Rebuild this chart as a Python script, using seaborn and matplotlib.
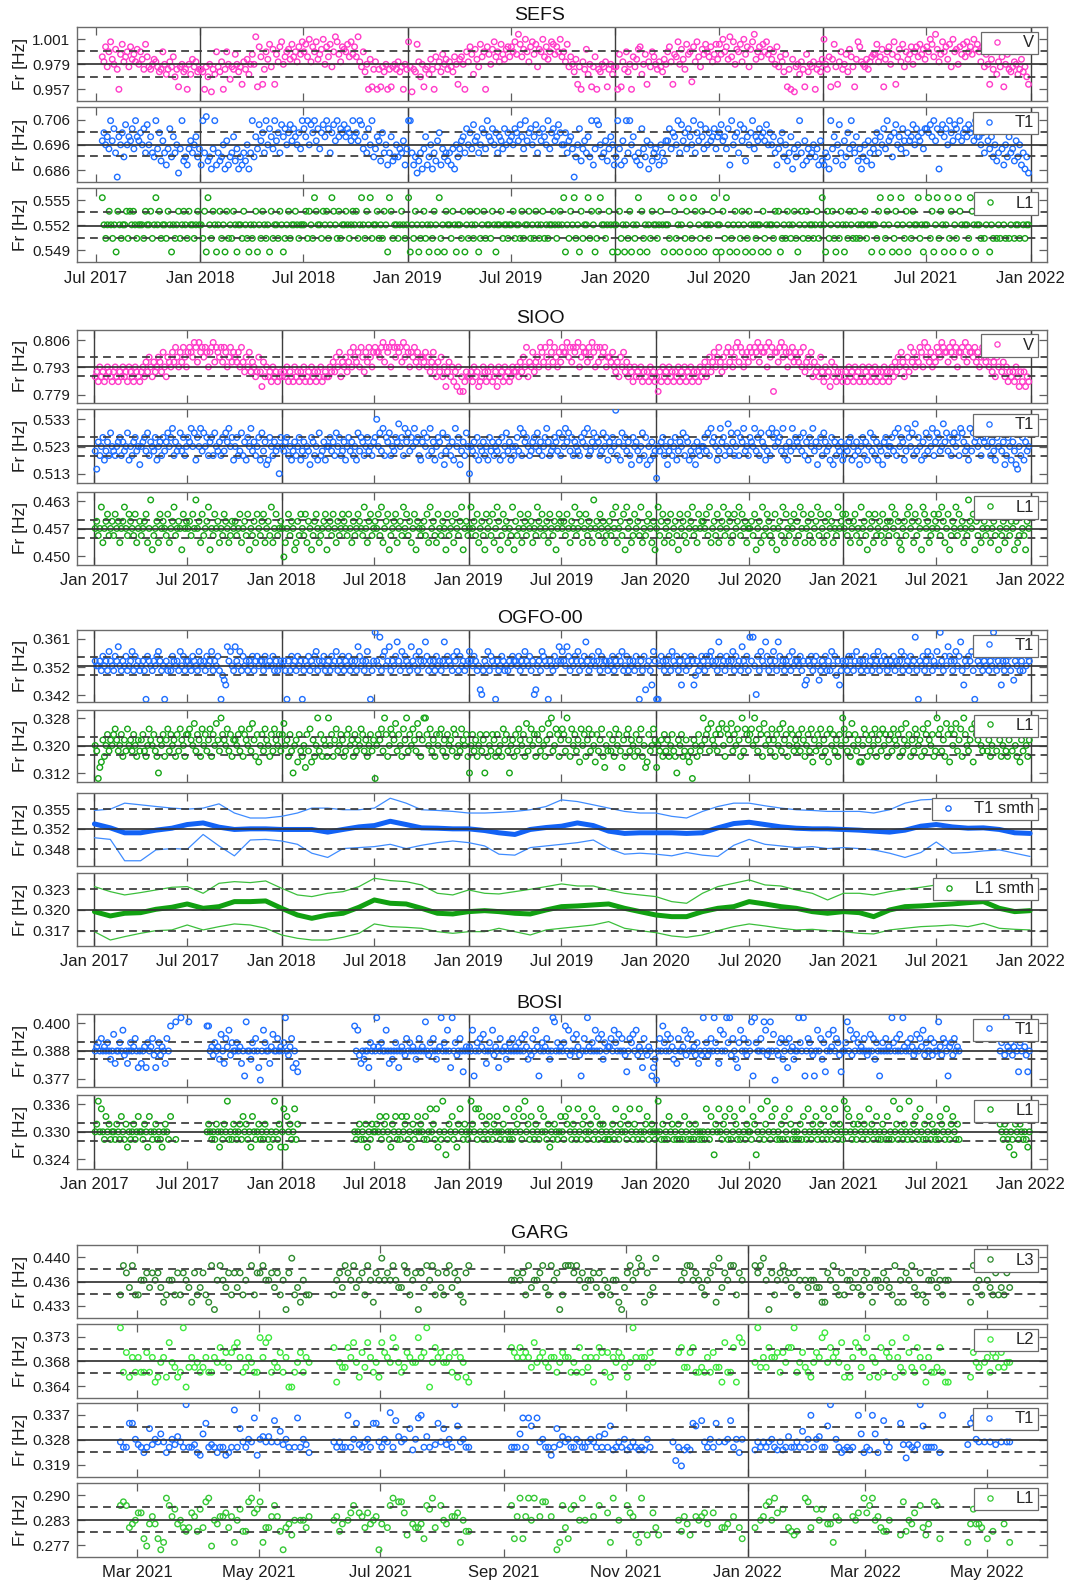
import numpy as np
import pandas as pd
import matplotlib
matplotlib.use("Agg")
import matplotlib.pyplot as plt
import matplotlib.dates as mdates
from matplotlib.lines import Line2D
from matplotlib.ticker import FixedLocator, FixedFormatter
import seaborn as sns

sns.set_theme(style="white")
plt.rcParams["font.family"] = ["Liberation Sans", "DejaVu Sans"]

# ---------------------------------------------------------------------------
# Daily resonance-frequency picks, stored as level codes per time chunk.
# Each character is one pick: value = base + int(char, 36) * step ; "." = no pick.
# Picks inside a chunk are spread evenly between the chunk edges.
# ---------------------------------------------------------------------------

# ---- SEFS -----------------------------------------------------------------
SEFS_EDGES = ["2017-07-11", "2017-10-01", "2018-01-01", "2018-04-01", "2018-07-01",
              "2018-10-01", "2019-01-01", "2019-04-01", "2019-07-01", "2019-10-01",
              "2020-01-01", "2020-04-01", "2020-07-01", "2020-10-01", "2021-01-01",
              "2021-04-01", "2021-07-01", "2021-10-01", "2021-12-30"]
SEFS_V_LEVELS = (0.9526, 0.0022)
SEFS_V = [
    "fdjbhlecia2gkdfhbjegdicheakf",
    "bacedb9ahc8adbf7a3bc9a2c8ebd9a",
    "a92b7c1a8hb9d2ahc6bagc9b4dae8c",
    "gcn3jf4ahekbi4gdjlcfhiekfhdjgl",
    "hkfmdjhlegimcjfkbhnlgdjihkflgj",
    "fndbh9c2e3ad2a3b9c2a3bcad9b2ca",
    "lb1a9kd7c3ab8ea2fbd9gceadb9fc4",
    "efc2hdjg8iebkfh2jgcilfhdkgeijf",
    "jhlgokfimhdjlgkbihmfjehlkgjhmf",
    "hdkbfc9e4b2dai8c3bf2a9cbd3ac8b",
    "b2g3dah9c2fbeij8cg4dbhfcadb9ec",
    "hjd4gflcieakgh5jdlfbigkhfjdgke",
    "kgmhjenflcihkdmgjbiloehjfkhlgi",
    "ehcjbfd9g3a2e1bc8da3g9cbd2ac9e",
    "mcaf3ekb4dhacg9ifb3eljdcbeadfg",
    "gkdfi3ehjcgl4fidkbhegjchjfkgie",
    "jhmkfoidglhjekbmhicjgkflhjgmik",
    "hdjbgc4eai8dbf3cga9bdc8ae9b74",
]
SEFS_T1_LEVELS = (0.6832, 0.0016)
SEFS_T1 = [
    "9b8a7e9c60a8b5d8a9c7ea9b8c6d",
    "8a65e7b49637c5a6817e4537968a57",
    "3e6f4527e3645829356a4725364826",
    "e5a7d9b6e8ca7e9b6dac8bd9ca8b7e",
    "cae8dbe9c7bdaec6bd9eacbdacb9ea",
    "b9ed7a6c8e57a94b6836a458576937",
    "ee63514627a3582649b37564637285",
    "79a6c8b7d9a68cb7ea9c8b6a97c8b9",
    "a8cb9da7e9bc8ad6b9ca8e7bc9adb8",
    "8b69a7058c4796a5e37ed856947a83",
    "5e7394e6e8a5463c75928467538649",
    "9c7ba8e6d9b7ca8e6b9da7c8b9ac7a",
    "bd9a7c3e8ab6d9c4a8be7a9cab9d8b",
    "8a6379b5846a2758e6394756857394",
    "3652e7a48d6395b7e86a4725849637",
    "9b6a8c7e9a5bd8a7c96b9ad8ca9b7c",
    "cbdae9c2bdac8eb9dcae9bcadbc9ea",
    "a8b6c97a5846e7385a67495836251",
]
SEFS_L1_LEVELS = (0.5488, 0.00163)
SEFS_L1 = [
    "421232120321223132321222132",
    "231242312213202123123213221232",
    "213042132023120312132022132102",
    "123021321203122132012312232122",
    "231321432213231243213122321232",
    "312421324122312132043122123212",
    "402132012312021320412032213202",
    "213021321230123122132022312212",
    "231221312231213212312122321232",
    "402132412031224132013422123202",
    "203120213021240312021322123202",
    "214031202413021430213022123402",
    "203142012302132013202122031202",
    "213230121321231023123122123124",
    "203123102132021321312122312202",
    "213402132401320421302132241202",
    "241302413202413021432022143202",
    "21312302131213213123122132122",
]

# ---- SIOO -----------------------------------------------------------------
SIOO_EDGES = ["2017-01-01", "2017-04-01", "2017-07-01", "2017-10-01",
              "2018-01-01", "2018-04-01", "2018-07-01", "2018-10-01",
              "2019-01-01", "2019-04-01", "2019-07-01", "2019-10-01",
              "2020-01-01", "2020-04-01", "2020-07-01", "2020-10-01",
              "2021-01-01", "2021-04-01", "2021-07-01", "2021-10-01", "2021-12-30"]
SIOO_V_LEVELS = (0.7789, 0.0024)
SIOO_V = [
    "453645346543564354645365436543",
    "5647586475687596487697a8697a86",
    "9a98ba7b9a8a969ab7a98a7a968a79",
    "8796a7586957645852746453645345",
    "454635436453546345364535463454",
    "4657586947685796a8796a8597a869",
    "a998ab7a9a6ba8a9a7b8a9698a7968",
    "879685796475846257463526141354",
    "453645234653546345264536453465",
    "5647586a47695786a97a86b97a8697",
    "a99b8a7a9ab68a997a8b96a7a89a68",
    "879657486957465364546354536453",
    "415364536453546354635463545364",
    "5746857968a75869a7968ab7a96897",
    "a98a9b7a99a6b8a1997ab8a9698a79",
    "8796a5786947564853645274635453",
    "453645364534635463546354536453",
    "5647586974685a79687a96b8a79687",
    "a98ba997a9b8a699a8b7a998a7968a",
    "87968574869574635453642535243",
]
SIOO_T1_LEVELS = (0.50978, 0.00166)
SIOO_T1 = [
    "73968a5796b87689a6978b5869a784",
    "89a7b6987a5896a79b8ac6978b7a68",
    "a9c8b5a8c7b8a69a6b8796a7b9c8a5",
    "8a67b695a8c7968a5b7945a869782a",
    "879a6857968a5796874a9685b67958",
    "8a796b8a67958a79685b7a968a7869",
    "ae8b7c6a9b687a9d8a6c9b7a8c9a65",
    "9b8a6c7958a96b47a8695c8a4796b8",
    "28796a5879685a7968795a68b79586",
    "8a7c6b9a8679a8b7968ac9678a97b6",
    "a8c9b7a69876a9b8c679b8a967b8a5",
    "97a8g695b8a7964a89758b6a485967",
    "1879a6847968a5798b6a9576849768",
    "8a7b6c9a857c9a68d7b968b6a9c786",
    "a98c7a6b9857b6ca8b9a7c68597c8a",
    "98a7b695a8c7948a6b9785a4968795",
    "6879a5869748a6958b7a6958749a68",
    "8a7b6c8a957ca8b6d7a8596b7a8c69",
    "ba78d9b7a69b8a6cb9785c7b9a8c6a",
    "9a8b6975a8c7946a85974386a5978",
]
SIOO_L1_LEVELS = (0.4500, 0.00167)
SIOO_L1 = [
    "453472456345364524574365436245",
    "345624813452645436245734541645",
    "453648452634571436452436542354",
    "534624536143526435624537246345",
    "402463541253643625413564234561",
    "453642534654364253465437425634",
    "546372456134562453746352461543",
    "453627453264354163452643571453",
    "474536245316453624751364524371",
    "534624536452437546345264351465",
    "453642547346524635428453645234",
    "536472453617452364537243564251",
    "473562453624531645326457342645",
    "546372453624573465236457364524",
    "453614527346532461453726435462",
    "537462453624573642536452437456",
    "463524563427453164526345362453",
    "574635214536745263541764523465",
    "463752461354736452438546153624",
    "53462453614352463541523643154",
]

# ---- OGFO-00 --------------------------------------------------------------
OGFO_EDGES = SIOO_EDGES[:-1] + ["2021-12-31"]
OGFO_T1_LEVELS = (0.3412, 0.0016)
OGFO_T1 = [
    "877869786a87698b76879678a69786",
    "78609876879a8670867698786a7968",
    "8769876a8786978a687960543b8a76",
    "b87a69786879689788697787968678",
    "7860869786978068796879a6878967",
    "86978a6879687968786b97868a7068",
    "e87d69a78b6879c86a79876b8796a8",
    "78c96878697868c7987698a6978678",
    "a87986721687a69870867986768798",
    "879687a8796812786a9870876978b8",
    "a87b968798a6879c8679878a697886",
    "87968798a6796878697086927863a8",
    "0079868796a8796837968798358679",
    "86979a8786c97869878a69786b8796",
    "d8d7196a87c9687a86c97868796a78",
    "8796834879689746879686a7958368",
    "78697968a7868796786978a6879867",
    "8796878a69786978d6087968a79687",
    "a7e8697b9868a79c638798a60b8796",
    "879687e96873868796a4879686a798",
]
OGFO_L1_LEVELS = (0.3089, 0.0016)
OGFO_L1 = [
    "7613485796879a8679586a78697586",
    "89657a87965287958a6978596a8759",
    "9a87b6985a7968a597b86c987a6958",
    "8796a5987a6b8594796a87596a8796",
    "9b7859627849657396a4857c695875",
    "c7958a6798569a7859687a96857968",
    "1798a6c957a98b6975a8c697a86b95",
    "8cc97a685979a6859786a9576a8795",
    "2796857968295769859675a8962785",
    "96a8795b68a795986a758b9c67a958",
    "a96c85a79684a7958a6974968a5376",
    "9685a7963859a6875968a5734967a8",
    "376859685796528795685461875967",
    "c89a6b8796a9b75a98b697a85c6a98",
    "9a7c86a95b7986a8597a6b8957a968",
    "796a85796a48697a58694a7968597c",
    "a8695b7968447a958697a5896a7958",
    "96a8795a68b79586a9785a69b87956",
    "c9a685b94a79b68a5c9768a4b98a76",
    "9a6857b96a8579658a6975a4869758",
]

# Running mean and +/- one-sigma envelope, sampled at each month start
SMOOTH_DATES = pd.date_range("2017-01-01", "2021-12-01", freq="MS").append(
    pd.DatetimeIndex(["2021-12-31"]))
T1_SMTH_MID = [
    0.35272, 0.35203, 0.35117, 0.35117, 0.35163, 0.35197, 0.35261, 0.35289, 0.35215, 0.35175, 0.35186, 0.35186,
    0.35175, 0.35175, 0.35175, 0.35129, 0.35175, 0.35220, 0.35243, 0.35318, 0.35261, 0.35203, 0.35197, 0.35186,
    0.35186, 0.35157, 0.35117, 0.35088, 0.35175, 0.35209, 0.35232, 0.35289, 0.35243, 0.35146, 0.35106, 0.35117,
    0.35117, 0.35117, 0.35106, 0.35117, 0.35203, 0.35278, 0.35301, 0.35261, 0.35220, 0.35197, 0.35186, 0.35186,
    0.35175, 0.35163, 0.35146, 0.35129, 0.35163, 0.35232, 0.35261, 0.35220, 0.35197, 0.35203, 0.35175, 0.35117, 0.35106]
T1_SMTH_HI = [
    0.35507, 0.35530, 0.35634, 0.35605, 0.35576, 0.35548, 0.35530, 0.35548, 0.35622, 0.35462, 0.35375, 0.35375,
    0.35404, 0.35462, 0.35548, 0.35548, 0.35519, 0.35519, 0.35548, 0.35720, 0.35634, 0.35519, 0.35507, 0.35490,
    0.35462, 0.35462, 0.35473, 0.35490, 0.35519, 0.35576, 0.35691, 0.35662, 0.35605, 0.35548, 0.35490, 0.35462,
    0.35462, 0.35404, 0.35375, 0.35490, 0.35576, 0.35634, 0.35634, 0.35588, 0.35548, 0.35519, 0.35507, 0.35490,
    0.35490, 0.35490, 0.35462, 0.35519, 0.35634, 0.35691, 0.35703, 0.35548, 0.35530, 0.35519, 0.35507, 0.35490, 0.35490]
T1_SMTH_LO = [
    0.35031, 0.35002, 0.34629, 0.34629, 0.34819, 0.34842, 0.34830, 0.35088, 0.34888, 0.34715, 0.34991, 0.35002,
    0.34974, 0.34916, 0.34761, 0.34687, 0.34842, 0.34859, 0.34876, 0.34916, 0.34842, 0.34899, 0.34945, 0.34974,
    0.34945, 0.34888, 0.34744, 0.34727, 0.34859, 0.34888, 0.34916, 0.34945, 0.34991, 0.34842, 0.34744, 0.34761,
    0.34744, 0.34715, 0.34773, 0.34727, 0.34704, 0.34899, 0.35002, 0.34916, 0.34888, 0.34859, 0.34876, 0.34842,
    0.34859, 0.34842, 0.34819, 0.34761, 0.34687, 0.34773, 0.34956, 0.34761, 0.34773, 0.34801, 0.34819, 0.34761, 0.34704]
L1_SMTH_MID = [
    0.31976, 0.31913, 0.31952, 0.31961, 0.32010, 0.32039, 0.32087, 0.32024, 0.32048, 0.32121, 0.32121, 0.32131,
    0.32024, 0.31927, 0.31879, 0.31927, 0.31952, 0.32039, 0.32145, 0.32097, 0.32087, 0.32024, 0.31952, 0.31942,
    0.31976, 0.31990, 0.31976, 0.31952, 0.31942, 0.32000, 0.32048, 0.32058, 0.32073, 0.32087, 0.32024, 0.31976,
    0.31927, 0.31903, 0.31903, 0.31976, 0.32024, 0.32048, 0.32121, 0.32087, 0.32048, 0.32024, 0.31976, 0.31952,
    0.31976, 0.31961, 0.31903, 0.32000, 0.32048, 0.32058, 0.32073, 0.32087, 0.32106, 0.32121, 0.32024, 0.31976, 0.31990]
L1_SMTH_HI = [
    0.32339, 0.32266, 0.32218, 0.32252, 0.32290, 0.32329, 0.32339, 0.32242, 0.32387, 0.32411, 0.32397, 0.32421,
    0.32315, 0.32218, 0.32194, 0.32242, 0.32266, 0.32339, 0.32460, 0.32426, 0.32411, 0.32363, 0.32242, 0.32218,
    0.32290, 0.32242, 0.32232, 0.32266, 0.32300, 0.32339, 0.32378, 0.32348, 0.32348, 0.32290, 0.32242, 0.32218,
    0.32194, 0.32121, 0.32097, 0.32242, 0.32339, 0.32387, 0.32436, 0.32363, 0.32348, 0.32290, 0.32242, 0.32145,
    0.32242, 0.32242, 0.32218, 0.32266, 0.32300, 0.32329, 0.32363, 0.32387, 0.32436, 0.32436, 0.32387, 0.32339, 0.32315]
L1_SMTH_LO = [
    0.31685, 0.31564, 0.31613, 0.31661, 0.31700, 0.31710, 0.31782, 0.31710, 0.31758, 0.31797, 0.31782, 0.31734,
    0.31637, 0.31589, 0.31564, 0.31564, 0.31603, 0.31661, 0.31797, 0.31758, 0.31748, 0.31734, 0.31685, 0.31661,
    0.31685, 0.31685, 0.31734, 0.31685, 0.31637, 0.31710, 0.31734, 0.31758, 0.31782, 0.31831, 0.31734, 0.31700,
    0.31671, 0.31622, 0.31603, 0.31637, 0.31700, 0.31758, 0.31797, 0.31768, 0.31734, 0.31710, 0.31719, 0.31700,
    0.31685, 0.31661, 0.31652, 0.31710, 0.31734, 0.31758, 0.31768, 0.31782, 0.31758, 0.31806, 0.31734, 0.31719, 0.31710]

# ---- BOSI (station offline for part of 2017-2018 and autumn 2021) -----------
BOSI_EDGES = ["2017-01-01", "2017-04-01", "2017-05-27", "2017-08-01", "2017-10-01",
              "2018-01-01", "2018-02-03", "2018-05-22", "2018-07-01", "2018-10-01",
              "2019-01-01", "2019-04-01", "2019-07-01", "2019-10-01", "2020-01-01",
              "2020-04-01", "2020-07-01", "2020-10-01", "2021-01-01", "2021-04-01",
              "2021-07-01", "2021-08-16", "2021-11-01", "2021-12-31"]
BOSI_T1_LEVELS = (0.37629, 0.00173)
BOSI_T1 = [
    "7897a7879757b47797c6747978a737",
    "4783978a63796874a7",
    "d.e.f..e.....",
    "..dd7869785b74a8c697",
    "7978471e77597a7307c97748b77a78",
    "79f768a3742",
    "",
    "d7c6475773978",
    "7f87977c747579737876a7978757a7",
    "87e7697a7578f797c73f7967a72787",
    "87c1797a8b74797c6873a7785797a7",
    "8797a7b8576a7c817978a757fe7978",
    "79d7c67a7b8617a7f8797c7a7b5978",
    "8a7c97b7a7627a9b7c6873a7687135",
    "07a7d97b7a8574a778c6a7b7869476",
    "f7967a7f974c7b7f9f6a7539c7a769",
    "7e1f977a7ec67e7b0769a5793a7857",
    "7f97f17a97617c7a5927b78c7a9627",
    "79e7c6a7b9787a767b7a5971797a78",
    "7f97a7b7f8797a867b7a8c6977a697",
    "7e86a971896a787",
    "",
    "79a6f87968a7297b8627",
]
BOSI_L1_LEVELS = (0.3250, 0.00167)
BOSI_L1 = [
    "347363253423324325324132342353",
    "324315323423213432",
    "5.2..........",
    "..343232431324372324",
    "323425342315323423243213273241",
    "36153423624",
    "",
    "3234232413243",
    "343523453214352325345231423534",
    "325236342613273024352314632432",
    "374362635234253243532342632325",
    "346325734253243263532413243235",
    "325463243263245323462352434232",
    "234263243532463243263234523432",
    "373242325342324232532423243232",
    "326325304363245326235423263243",
    "325403263247325362324253264232",
    "324253263243523426325324632432",
    "736532432453243263423523243252",
    "327342632432732453263242352432",
    "325432632453242",
    "",
    "43243213204324323213",
]

# ---- GARG -----------------------------------------------------------------
GARG_EDGES = ["2021-02-20", "2021-03-01", "2021-04-01", "2021-05-01", "2021-05-27",
              "2021-06-07", "2021-07-01", "2021-08-01", "2021-08-15", "2021-09-04",
              "2021-10-01", "2021-11-01", "2021-12-01", "2021-12-30", "2022-01-04",
              "2022-02-01", "2022-03-01", "2022-04-01", "2022-05-13"]
GARG_L3_LEVELS = (0.4326, 0.001025)
GARG_L3 = [
    "265362",
    "2445354531244252543152",
    "35216046435253524.625",
    "564453524057231422",
    "",
    "24536546345264154",
    "7454643365245053646253",
    "2563542156",
    "",
    "4454526344563264502",
    "6665645344535243244103",
    "56457615237........45",
    "66454324561735466254",
    "",
    "65674052456453524.43",
    "44331154632524435324",
    "5314435432614154632521",
    "44534244.......163426432523253",
]
GARG_L2_LEVELS = (0.36306, 0.00086)
GARG_L2 = [
    "d48374",
    "74484723673a6534d15756",
    "4574476968589a7457644",
    "b7ab46584711468476",
    "",
    "9265597a6385a7463",
    "a876b96458766b78d16978",
    "6674837632",
    "",
    "98797875a6786577468",
    "7746494757279848376875",
    "36d7.77586........895",
    "5894454748552a4492ba",
    "",
    "6d575977848699d46854",
    "3687bc69786a3537a958",
    "b37639487a3754b8549752",
    "74459422.......386596748758566",
]
GARG_T1_LEVELS = (0.3186, 0.00096)
GARG_T1 = [
    "977gga",
    "8757e8a9c957a8b97n7785",
    "4cg787577457l7e97a9i4",
    "ab9b9h9d8a7.7i7a85",
    "",
    "97977j7ag879a7gg9",
    "7a9k7hb9a.e6aij7b7.8g9",
    "e8a7nf9a77",
    "",
    "777ci7if.i9a7747e8b",
    "9a77a9779a97b7c7f6797a",
    "6797676a7.......92706",
    "76gf.h97a7g9.9ah7a5a",
    "",
    "697979a76967b7797d7a",
    "j7ab77fn.a756767.jc5",
    "76jc5.h97...g838768nf7",
    "777.5j........8gia9.9.9.8.9.99",
]
GARG_L1_LEVELS = (0.2759, 0.000935)
GARG_L1 = [
    "cdc678",
    "aa31797302ec9b78656a95",
    "b6de18799a6928b55deab",
    "d2669c9506748.8869",
    "",
    "8957.8ac.a96a7890",
    "7.6ce.dda4.76673cbe6.c",
    "87.99a2855",
    "",
    "c39e39e8e.9dd.9.02c",
    "63bc.8e8..9.c..a2e.8..",
    "ca942e.4.a64......859",
    "74.989a7.a..667.9.63",
    "",
    "6.89cd8ea.b.6545..ed",
    "6.b8b.77298....98a.e",
    "ace896558...4d587a.c64",
    "7.dc3.........27b776.3.5...7.2",
]


def decode(edges, chunks, levels):
    base, step = levels
    times, vals = [], []
    for a, b, s in zip(edges[:-1], edges[1:], chunks):
        if not s:
            continue
        a, b = pd.Timestamp(a), pd.Timestamp(b)
        n = len(s)
        for j, ch in enumerate(s):
            if ch == ".":
                continue
            times.append(a + (b - a) * ((j + 0.5) / n))
            vals.append(base + int(ch, 36) * step)
    return pd.DataFrame({"date": times, "fr": vals})


# ---------------------------------------------------------------------------
# Figure layout (pixel geometry of a 1073 x 1585 canvas)
# ---------------------------------------------------------------------------
FIG_W, FIG_H = 1073, 1585
AX_L, AX_R = 77, 1047

PINK = "#ff3cc8"
BLUE = "#1f6fff"
GREEN = "#19a619"
DKGREEN = "#2e8a2e"
LTGREEN = "#3ee83e"
MDGREEN = "#36c836"

fig = plt.figure(figsize=(FIG_W / 100, FIG_H / 100), dpi=100)
fig.patch.set_facecolor("white")


def dnum(s):
    return mdates.date2num(pd.Timestamp(s))


def new_axes(top, bottom):
    return fig.add_axes([AX_L / FIG_W, 1 - bottom / FIG_H,
                         (AX_R - AX_L) / FIG_W, (bottom - top) / FIG_H])


def frame(ax, top, bottom, xlim, xticks, years, ylim, yticks, ylabels,
          mean, band, label, color, show_x):
    ax.set_facecolor("white")
    ax.set_xlim(dnum(xlim[0]), dnum(xlim[1]))
    ax.set_ylim(*ylim)
    for yr in years:
        ax.axvline(dnum(f"{yr}-01-01"), color="#3d3d3d", lw=1.0, zorder=1)
    ax.axhline(mean, color="#343434", lw=1.25, zorder=4)
    for b in band:
        ax.axhline(b, color="#3a3a3a", lw=1.25, ls=(0, (4.5, 3.0)), zorder=4)
    ax.xaxis.set_major_locator(FixedLocator([dnum(t) for t in xticks]))
    ax.xaxis.set_major_formatter(mdates.DateFormatter("%b %Y"))
    ax.yaxis.set_major_locator(FixedLocator(yticks))
    ax.yaxis.set_major_formatter(FixedFormatter(ylabels))
    ax.tick_params(axis="both", which="major", direction="in", length=5.5,
                   width=0.9, color="#5e5e5e", top=True, right=True,
                   bottom=True, left=True, labelcolor="#1c1c1c")
    ax.tick_params(axis="x", labelsize=12, pad=6, labelbottom=show_x)
    ax.tick_params(axis="y", labelsize=11, pad=5)
    for sp in ax.spines.values():
        sp.set_visible(True)
        sp.set_color("#6b6b6b")
        sp.set_linewidth(1.0)
    ax.set_xlabel("")
    ax.set_ylabel("Fr [Hz]", fontsize=12.5, color="#1c1c1c")
    ax.yaxis.set_label_coords(-0.0505, 0.5)
    handle = Line2D([], [], ls="none", marker="o", ms=3.8, mfc="none",
                    mec=color, mew=0.9)
    leg = ax.legend([handle], [label], loc="upper right",
                    bbox_to_anchor=(1 - 9 / (AX_R - AX_L), 1 - 4.5 / (bottom - top)),
                    borderaxespad=0, frameon=True, fancybox=False, framealpha=1,
                    edgecolor="#6a6a6a", fontsize=12, handlelength=1.5,
                    handletextpad=0.8, borderpad=0.22)
    leg.get_frame().set_linewidth(0.9)
    leg.set_zorder(10)


def dots(ax, df, color):
    sns.scatterplot(data=df, x="date", y="fr", ax=ax, marker="o", s=16,
                    color=color, facecolor="none", edgecolor=color,
                    linewidth=1.0, legend=False, zorder=3)


SEFS_XLIM = ("2017-05-29", "2022-01-30")
FIVE_XLIM = ("2016-11-28", "2022-02-02")
GARG_XLIM = ("2021-01-30", "2022-05-31")
SEFS_XT = pd.date_range("2017-07-01", "2022-01-01", freq="6MS")
FIVE_XT = pd.date_range("2017-01-01", "2022-01-01", freq="6MS")
GARG_XT = pd.date_range("2021-03-01", "2022-05-01", freq="2MS")
SEFS_YEARS = range(2018, 2023)
FIVE_YEARS = range(2017, 2023)
GARG_YEARS = [2022]

scatter_panels = [
    # (top, bottom, edges, codes, levels, xlim, xticks, years, ylim, yticks, ylabels, mean, band, label, color, show_x)
    (27.3, 101.0, SEFS_EDGES, SEFS_V, SEFS_V_LEVELS, SEFS_XLIM, SEFS_XT, SEFS_YEARS,
     (0.94673, 1.01156), [0.957, 0.979, 1.001], ["0.957", "0.979", "1.001"],
     0.979, (0.96785, 0.99073), "V", PINK, False),
    (107.3, 181.7, SEFS_EDGES, SEFS_T1, SEFS_T1_LEVELS, SEFS_XLIM, SEFS_XT, SEFS_YEARS,
     (0.68136, 0.7109), [0.686, 0.696, 0.706], ["0.686", "0.696", "0.706"],
     0.6958, (0.69143, 0.70097), "T1", BLUE, False),
    (187.7, 262.3, SEFS_EDGES, SEFS_L1, SEFS_L1_LEVELS, SEFS_XLIM, SEFS_XT, SEFS_YEARS,
     (0.54756, 0.55652), [0.549, 0.552, 0.555], ["0.549", "0.552", "0.555"],
     0.55196, (0.55044, 0.55356), "L1", GREEN, True),

    (330.0, 402.7, SIOO_EDGES, SIOO_V, SIOO_V_LEVELS, FIVE_XLIM, FIVE_XT, FIVE_YEARS,
     (0.7758, 0.8114), [0.7797, 0.7931, 0.8065], ["0.779", "0.793", "0.806"],
     0.7934, (0.7891, 0.7983), "V", PINK, False),
    (409.3, 482.7, SIOO_EDGES, SIOO_T1, SIOO_T1_LEVELS, FIVE_XLIM, FIVE_XT, FIVE_YEARS,
     (0.5098, 0.5367), [0.513, 0.523, 0.533], ["0.513", "0.523", "0.533"],
     0.52312, (0.5197, 0.52653), "T1", BLUE, False),
    (491.7, 565.0, SIOO_EDGES, SIOO_L1, SIOO_L1_LEVELS, FIVE_XLIM, FIVE_XT, FIVE_YEARS,
     (0.4481, 0.4653), [0.4501, 0.4566, 0.4631], ["0.450", "0.457", "0.463"],
     0.4566, (0.4545, 0.4587), "L1", GREEN, True),

    (630.0, 702.3, OGFO_EDGES, OGFO_T1, OGFO_T1_LEVELS, FIVE_XLIM, FIVE_XT, FIVE_YEARS,
     (0.3402, 0.3644), [0.3426, 0.3520, 0.3614], ["0.342", "0.352", "0.361"],
     0.35222, (0.3492, 0.35525), "T1", BLUE, False),
    (710.0, 782.3, OGFO_EDGES, OGFO_L1, OGFO_L1_LEVELS, FIVE_XLIM, FIVE_XT, FIVE_YEARS,
     (0.30938, 0.33043), [0.312, 0.320, 0.328], ["0.312", "0.320", "0.328"],
     0.32005, (0.31743, 0.32267), "L1", GREEN, False),

    (1014.0, 1087.3, BOSI_EDGES, BOSI_T1, BOSI_T1_LEVELS, FIVE_XLIM, FIVE_XT, FIVE_YEARS,
     (0.3733, 0.40378), [0.3769, 0.3884, 0.3999], ["0.377", "0.388", "0.400"],
     0.3884, (0.38493, 0.39228), "T1", BLUE, False),
    (1095.0, 1169.0, BOSI_EDGES, BOSI_L1, BOSI_L1_LEVELS, FIVE_XLIM, FIVE_XT, FIVE_YEARS,
     (0.3219, 0.33804), [0.324, 0.330, 0.336], ["0.324", "0.330", "0.336"],
     0.32997, (0.32794, 0.33201), "L1", GREEN, True),

    (1245.0, 1318.0, GARG_EDGES, GARG_L3, GARG_L3_LEVELS, GARG_XLIM, GARG_XT, GARG_YEARS,
     (0.43142, 0.44162), [0.4331, 0.4365, 0.4399], ["0.433", "0.436", "0.440"],
     0.4365, (0.43478, 0.43822), "L3", DKGREEN, False),
    (1324.3, 1397.7, GARG_EDGES, GARG_L2, GARG_L2_LEVELS, GARG_XLIM, GARG_XT, GARG_YEARS,
     (0.36207, 0.37485), [0.3641, 0.3684, 0.3727], ["0.364", "0.368", "0.373"],
     0.3684, (0.36631, 0.37055), "L2", LTGREEN, False),
    (1403.3, 1476.7, GARG_EDGES, GARG_T1, GARG_T1_LEVELS, GARG_XLIM, GARG_XT, GARG_YEARS,
     (0.31471, 0.34117), [0.319, 0.328, 0.337], ["0.319", "0.328", "0.337"],
     0.32806, (0.32365, 0.33247), "T1", BLUE, False),
    (1483.3, 1556.7, GARG_EDGES, GARG_L1, GARG_L1_LEVELS, GARG_XLIM, GARG_XT, GARG_YEARS,
     (0.27414, 0.29275), [0.2771, 0.2834, 0.2897], ["0.277", "0.283", "0.290"],
     0.28344, (0.28031, 0.28666), "L1", MDGREEN, True),
]

for (top, bottom, edges, codes, levels, xlim, xticks, years, ylim, yticks,
     ylabels, mean, band, label, color, show_x) in scatter_panels:
    ax = new_axes(top, bottom)
    dots(ax, decode(edges, codes, levels), color)
    frame(ax, top, bottom, xlim, xticks, years, ylim, yticks, ylabels,
          mean, band, label, color, show_x)

# Smoothed OGFO-00 panels: running mean (thick) and one-sigma envelope (thin)
smooth_panels = [
    (793.3, 865.7, T1_SMTH_MID, T1_SMTH_HI, T1_SMTH_LO, "#1262f5", "#3f8cff",
     (0.34543, 0.35806), [0.3483, 0.35186, 0.3553], ["0.348", "0.352", "0.355"],
     0.35186, (0.3483, 0.3553), "T1 smth", False),
    (873.3, 946.0, L1_SMTH_MID, L1_SMTH_HI, L1_SMTH_LO, "#11a011", "#3cbf3c",
     (0.31477, 0.32532), [0.317, 0.320, 0.323], ["0.317", "0.320", "0.323"],
     0.3200, (0.317, 0.323), "L1 smth", True),
]
for (top, bottom, mid, hi, lo, c_mid, c_env, ylim, yticks, ylabels, mean, band,
     label, show_x) in smooth_panels:
    ax = new_axes(top, bottom)
    sm = pd.DataFrame({"date": SMOOTH_DATES, "mid": mid, "hi": hi, "lo": lo})
    sns.lineplot(data=sm, x="date", y="hi", ax=ax, color=c_env, lw=0.9, zorder=2)
    sns.lineplot(data=sm, x="date", y="lo", ax=ax, color=c_env, lw=0.9, zorder=2)
    sns.lineplot(data=sm, x="date", y="mid", ax=ax, color=c_mid, lw=3.6, zorder=3,
                 solid_capstyle="round", solid_joinstyle="round")
    frame(ax, top, bottom, FIVE_XLIM, FIVE_XT, FIVE_YEARS, ylim, yticks, ylabels,
          mean, band, label, c_mid, show_x)

# Station titles
for name, ypx in [("SEFS", 15.0), ("SIOO", 318.3), ("OGFO-00", 618.3),
                  ("BOSI", 1003.3), ("GARG", 1233.3)]:
    fig.text(540 / FIG_W, 1 - ypx / FIG_H, name, ha="center", va="center",
             fontsize=14, color="#111111")

fig.savefig("out.png", dpi=100, facecolor="white")
